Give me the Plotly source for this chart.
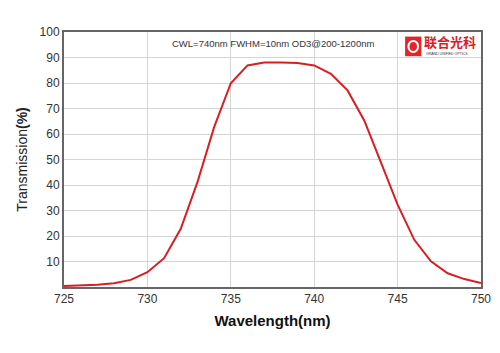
import plotly.graph_objects as go

wavelength = list(range(725, 751))
transmission = [0.4, 0.6, 0.9, 1.5, 2.8, 5.8, 11.3, 22.8, 41.1, 62.7, 79.9, 86.9, 88.0,
                88.0, 87.8, 86.9, 83.6, 77.1, 65.3, 48.9, 32.3, 18.5, 10.1, 5.4, 3.1, 1.6]
x_ticks = [725, 730, 735, 740, 745, 750]
y_ticks = [10, 20, 30, 40, 50, 60, 70, 80, 90, 100]
spec_text = "CWL=740nm FWHM=10nm OD3@200-1200nm"
brand_cn = "联合光科"
brand_en = "GRAND UNIFIED OPTICS"

fig = go.Figure()
fig.add_trace(go.Scatter(x=wavelength, y=transmission, mode="lines",
                         line=dict(color="#d81e23", width=2), hoverinfo="skip"))

font = "Liberation Sans, Arial, sans-serif"
fig.update_layout(
    width=500, height=353,
    margin=dict(l=64, r=9, t=32, b=66),
    paper_bgcolor="white", plot_bgcolor="white",
    showlegend=False,
    font=dict(family=font, color="#333333", size=12),
    xaxis=dict(range=[725, 750], tickvals=x_ticks, ticktext=[str(v) for v in x_ticks],
               showgrid=True, gridcolor="#d4d4d4", gridwidth=1,
               showline=True, linecolor="#666666", linewidth=2, mirror=True,
               ticks="", zeroline=False, tickfont=dict(size=12, color="#333333"),
               title=dict(text="<b>Wavelength(nm)</b>", font=dict(size=15, color="#111111"), standoff=10)),
    yaxis=dict(range=[0, 100], tickvals=y_ticks, ticktext=[str(v) for v in y_ticks],
               showgrid=True, gridcolor="#d4d4d4", gridwidth=1,
               showline=True, linecolor="#666666", linewidth=2, mirror=True,
               ticks="", zeroline=False, tickfont=dict(size=12, color="#333333"),
               title=dict(text="Transmission<b>(%)</b>", font=dict(size=14, color="#222222"), standoff=9)),
)

fig.add_annotation(x=0.5, y=0.955, xref="paper", yref="paper", text=spec_text,
                   showarrow=False, font=dict(size=9.5, color="#333333", family=font),
                   xanchor="center", yanchor="middle")

# logo
fig.add_shape(type="rect", xref="paper", yref="paper", x0=0.818, x1=0.857, y0=0.905, y1=0.982,
              fillcolor="#e0262b", line=dict(width=0), layer="above")
fig.add_shape(type="circle", xref="paper", yref="paper", x0=0.826, x1=0.849, y0=0.922, y1=0.965,
              fillcolor="rgba(0,0,0,0)", line=dict(color="white", width=2), layer="above")
fig.add_annotation(x=0.859, y=0.962, xref="paper", yref="paper", text="<b>" + brand_cn + "</b>",
                   showarrow=False, font=dict(size=13, color="#d81e23", family="Noto Sans CJK SC"),
                   xanchor="left", yanchor="middle")
fig.add_annotation(x=0.863, y=0.912, xref="paper", yref="paper", text=brand_en,
                   showarrow=False, font=dict(size=3.5, color="#333333", family=font),
                   xanchor="left", yanchor="middle")

fig.write_html("out.html")
